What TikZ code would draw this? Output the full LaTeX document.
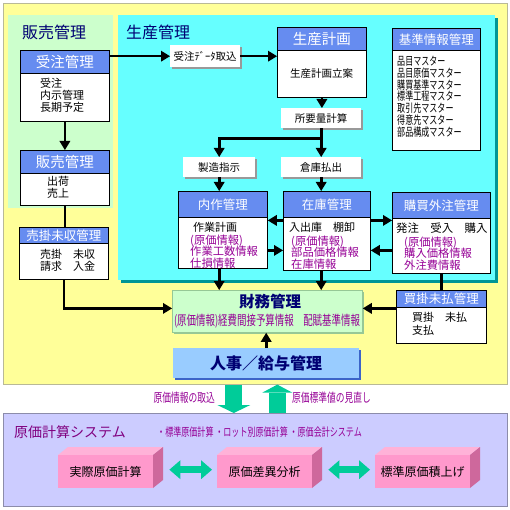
\documentclass[tikz,border=0pt]{standalone}
\usepackage{fontspec}
\setmainfont{Noto Sans CJK JP}
\newfontfamily\jpcond[FakeStretch=0.7]{Noto Sans CJK JP}
\usetikzlibrary{arrows.meta,shadows,calc}
\definecolor{hdr}{RGB}{102,140,240}
\definecolor{ylw}{RGB}{255,255,153}
\definecolor{ylwb}{RGB}{185,185,150}
\definecolor{lgreen}{RGB}{204,255,204}
\definecolor{zgreenb}{RGB}{150,200,150}
\definecolor{cyanp}{RGB}{102,255,255}
\definecolor{cyansh}{RGB}{0,150,150}
\definecolor{navy}{RGB}{0,0,115}
\definecolor{purp}{RGB}{150,0,150}
\definecolor{purpt}{RGB}{128,0,128}
\definecolor{lblue}{RGB}{153,204,255}
\definecolor{dblue}{RGB}{60,100,200}
\definecolor{lav}{RGB}{204,204,255}
\definecolor{lavb}{RGB}{140,140,170}
\definecolor{tealg}{RGB}{0,204,153}
\definecolor{pinkf}{RGB}{255,153,204}
\definecolor{pinkt}{RGB}{255,178,216}
\definecolor{pinks}{RGB}{206,104,156}
\newcommand\pinkbox[4]{%
  \fill[pinkt] (#2,#3) -- ++(10,-8) -- ++(95,0) -- ++(-10,8) -- cycle;
  \fill[pinks] (#2+95,#3) -- ++(10,-8) -- ++(0,33) -- ++(-10,8) -- cycle;
  \node[fill=pinkf, minimum width=95pt, minimum height=33pt, inner sep=0pt,
        anchor=north west, font=\fontsize{12}{14}\selectfont] (#1) at (#2,#3) {#4};
}
\begin{document}
\begin{tikzpicture}[x=1pt,y=-1pt,
  box/.style={draw=black,line width=0.8pt,fill=white,inner sep=0pt,anchor=north west},
  head/.style={draw=black,line width=0.8pt,fill=hdr,text=white,inner sep=0pt,anchor=north west},
  hbig/.style={head,font=\fontsize{14.5}{16}\selectfont},
  hsmall/.style={head,font=\fontsize{12.5}{14}\selectfont},
  lbl/.style={fill=white,inner sep=0pt,anchor=north west,font=\fontsize{10.5}{12}\selectfont,
     drop shadow={shadow xshift=2pt,shadow yshift=-2pt,fill=black!40,opacity=1}},
  txt/.style={inner sep=0pt,anchor=north west,align=left,font=\fontsize{11}{12}\selectfont},
  ptxt/.style={inner sep=0pt,anchor=north west,align=left,text=purp,font=\fontsize{11.3}{11.8}\selectfont},
  arr/.style={line width=2.6pt,-{Triangle[length=9pt,width=11pt,line width=0pt]}},
  ln/.style={line width=2.6pt},
  darr/.style={line width=7pt,draw=tealg,{Triangle[length=11pt,width=19pt,line width=0pt]}-{Triangle[length=11pt,width=19pt,line width=0pt]}},
]
\useasboundingbox (0,0) rectangle (510,510);
\fill[white] (0,0) rectangle (510,510);
% panels
\node[fill=ylw,draw=ylwb,line width=0.6pt,minimum width=504pt,minimum height=381pt,inner sep=0pt,anchor=north west] (ybg) at (3,3) {};
\node[fill=lgreen,minimum width=105pt,minimum height=193pt,inner sep=0pt,anchor=north west] (salespanel) at (8,15) {};
\node[fill=cyanp,minimum width=377pt,minimum height=265pt,inner sep=0pt,anchor=north west,
      drop shadow={shadow xshift=2.5pt,shadow yshift=-2.5pt,fill=cyansh,opacity=1}] (prodpanel) at (118,15) {};
\node[anchor=west,inner sep=0pt,text=navy,font=\fontsize{16}{18}\selectfont] (t1) at (22,32) {販売管理};
\node[anchor=west,inner sep=0pt,text=navy,font=\fontsize{16}{18}\selectfont] (t2) at (126,32) {生産管理};

% sales side
\node[box,minimum width=89pt,minimum height=71pt] (juchu) at (20,50) {};
\node[hbig,minimum width=89pt,minimum height=23pt] (juchuH) at (20,50) {受注管理};
\node[txt] (juchuT) at (40,78.4) {受注\\内示管理\\長期予定};

\node[box,minimum width=89pt,minimum height=55pt] (hanbai) at (20,150) {};
\node[hbig,minimum width=89pt,minimum height=23pt] (hanbaiH) at (20,150) {販売管理};
\node[txt,align=center,anchor=north] (hanbaiT) at (58,176.4) {出荷\\売上};

\node[box,minimum width=89pt,minimum height=52pt] (urikake) at (19,227) {};
\node[hsmall,minimum width=89pt,minimum height=16pt] (urikakeH) at (19,227) {売掛未収管理};
\node[txt] (urikakeT) at (40,249.4) {売掛　未収\\請求　入金};

% production
\node[box,minimum width=89pt,minimum height=70pt] (seisan) at (277,27) {};
\node[hbig,minimum width=89pt,minimum height=23pt] (seisanH) at (277,27) {生産計画};
\node[inner sep=0pt,font=\fontsize{10.5}{12}\selectfont] (seisanT) at (321.5,74) {生産計画立案};

\node[box,minimum width=88pt,minimum height=122pt] (kijun) at (392,28) {};
\node[hsmall,minimum width=88pt,minimum height=22pt] (kijunH) at (392,28) {基準情報管理};
\node[txt,font={\jpcond\fontsize{11.5}{11.8}\selectfont}] (kijunT) at (397,56) {品目マスター\\品目原価マスター\\購買基準マスター\\標準工程マスター\\取引先マスター\\得意先マスター\\部品構成マスター};

\node[lbl,minimum width=70pt,minimum height=22pt] (dataL) at (170,45) {受注ﾃﾞｰﾀ取込};
\node[lbl,minimum width=80pt,minimum height=20pt] (shoyo) at (281,108) {所要量計算};
\node[lbl,minimum width=72pt,minimum height=20pt] (seizo) at (183,157) {製造指示};
\node[lbl,minimum width=80pt,minimum height=20pt] (soko) at (281,157) {倉庫払出};

\node[box,minimum width=89pt,minimum height=77pt] (naisaku) at (178,191) {};
\node[hsmall,minimum width=89pt,minimum height=26pt] (naisakuH) at (178,191) {内作管理};
\node[txt,anchor=west] (naisakuT) at (193,227) {作業計画};
\node[ptxt] (naisakuP) at (190,234.4) {(原価情報)\\作業工数情報\\仕損情報};

\node[box,minimum width=87pt,minimum height=79pt] (zaiko) at (283,191) {};
\node[hsmall,minimum width=87pt,minimum height=26pt] (zaikoH) at (283,191) {在庫管理};
\node[txt,anchor=west] (zaikoT) at (289,227) {入出庫　棚卸};
\node[ptxt] (zaikoP) at (291,235.4) {(原価情報)\\部品価格情報\\在庫情報};

\node[box,minimum width=98pt,minimum height=81pt] (kobai) at (392,192) {};
\node[hsmall,minimum width=98pt,minimum height=26pt] (kobaiH) at (392,192) {購買外注管理};
\node[txt,anchor=west,font=\fontsize{11.4}{12}\selectfont] (kobaiT) at (396,228) {発注　受入　購入};
\node[ptxt] (kobaiP) at (404,236.4) {(原価情報)\\購入価格情報\\外注費情報};

% finance / HR
\node[fill=lgreen,draw=zgreenb,line width=0.8pt,minimum width=190pt,minimum height=42pt,inner sep=0pt,anchor=north west,
      drop shadow={shadow xshift=1.5pt,shadow yshift=-1.5pt,fill=zgreenb,opacity=1}] (zaimu) at (172,290) {};
\node[inner sep=0pt,text=navy,font=\bfseries\fontsize{15.5}{17}\selectfont] (zaimuT) at (270,302) {財務管理};
\node[inner sep=0pt,text=purp,font={\jpcond\fontsize{13.5}{15}\selectfont}] (zaimuP) at (267,321) {(原価情報)経費間接予算情報　配賦基準情報};

\node[box,minimum width=90pt,minimum height=53pt] (kaikake) at (396,290) {};
\node[hsmall,minimum width=90pt,minimum height=17pt] (kaikakeH) at (396,290) {買掛未払管理};
\node[txt,font=\fontsize{11}{13}\selectfont] (kaikakeT) at (412,312.4) {買掛　未払\\支払};

\node[fill=lblue,minimum width=186pt,minimum height=30pt,inner sep=0pt,anchor=north west,text=navy,
      font=\bfseries\fontsize{16}{18}\selectfont,
      drop shadow={shadow xshift=2pt,shadow yshift=-2pt,fill=dblue,opacity=1}] (jinji) at (173,348) {人事／給与管理};

% connectors (top)
\draw[arr] (dataL.west -| juchuH.east) -- (dataL.west);
\draw[arr] (dataL.east) -- (dataL.east -| seisan.west);
\draw[arr] (seisan.south) -- (seisan.south |- shoyo.north);
\coordinate (br) at ($(shoyo.south)+(0,10)$);
\draw[ln] (shoyo.south) -- (br);
\draw[arr] (br) -| (seizo.north);
\draw[arr] (br) -- (soko.north);
\draw[arr] (seizo.south) -- (seizo.south |- naisaku.north);
\draw[arr] (soko.south) -- (soko.south |- zaiko.north);
% between boxes
\path ([yshift=10.5pt]zaiko.west) coordinate (z1);
\path ([yshift=-19.5pt]zaiko.west) coordinate (z2);
\path ([yshift=10.5pt]zaiko.east) coordinate (z3);
\path ([yshift=-19.5pt]zaiko.east) coordinate (z4);
\draw[arr] (z1) -- (z1 -| naisaku.east);
\draw[arr] (z2 -| naisaku.east) -- (z2);
\draw[arr] (z3) -- (z3 -| kobai.west);
\draw[arr] (z4 -| kobai.west) -- (z4);
% down to finance
\path ([yshift=3pt]zaimu.west) coordinate (zw);
\path ([yshift=3pt]zaimu.east) coordinate (ze);
\draw[arr] (seizo.south |- naisaku.south) -- (seizo.south |- zaimu.north);
\draw[arr] (soko.south |- zaiko.south) -- (soko.south |- zaimu.north);
\draw[ln] (kobai.south) -- (kobai.south |- kaikake.north);
\draw[arr] (ze -| kaikake.west) -- (ze);
\draw[arr] (jinji.north) -- (jinji.north |- zaimu.south);
% sales side
\draw[arr] (juchu.south) -- (juchu.south |- hanbaiH.north);
\draw[ln] (hanbai.south) -- (hanbai.south |- urikakeH.north);
\draw[arr] (urikake.south) |- (zw);

% cost system
\node[fill=lav,draw=lavb,line width=0.8pt,minimum width=504pt,minimum height=93pt,inner sep=0pt,anchor=north west] (csys) at (3,413) {};
\draw[line width=17pt,draw=tealg,-{Triangle[length=8pt,width=33pt,line width=0pt]}]
  ([xshift=-21.5pt]ybg.south) -- ([xshift=-21.5pt]ybg.south |- csys.north);
\draw[line width=17pt,draw=tealg,-{Triangle[length=8pt,width=30pt,line width=0pt]}]
  ([xshift=22pt]ybg.south |- csys.north) -- ([xshift=22pt]ybg.south);
\node[anchor=east,inner sep=0pt,text=purp,font={\jpcond\fontsize{12.5}{14}\selectfont}] (lab1) at (215,398) {原価情報の取込};
\node[anchor=west,inner sep=0pt,text=purp,font={\jpcond\fontsize{12.5}{14}\selectfont}] (lab2) at (292,398) {原価標準値の見直し};
\node[anchor=west,inner sep=0pt,text=purpt,font=\fontsize{14}{16}\selectfont] (csysT) at (14,432) {原価計算システム};
\node[anchor=west,inner sep=0pt,text=purp,font={\jpcond\fontsize{11.5}{13}\selectfont}] (csysL) at (157,432) {・標準原価計算 ・ロット別原価計算 ・原価会計システム};

\pinkbox{b1}{58}{455}{実際原価計算}
\pinkbox{b2}{217}{455}{原価差異分析}
\pinkbox{b3}{375}{455}{標準原価積上げ}
\draw[darr] ([xshift=16pt,yshift=2pt]b1.east) -- ([xshift=-5pt,yshift=2pt]b2.west);
\draw[darr] ([xshift=16pt,yshift=2pt]b2.east) -- ([xshift=-5pt,yshift=2pt]b3.west);
\end{tikzpicture}
\end{document}
